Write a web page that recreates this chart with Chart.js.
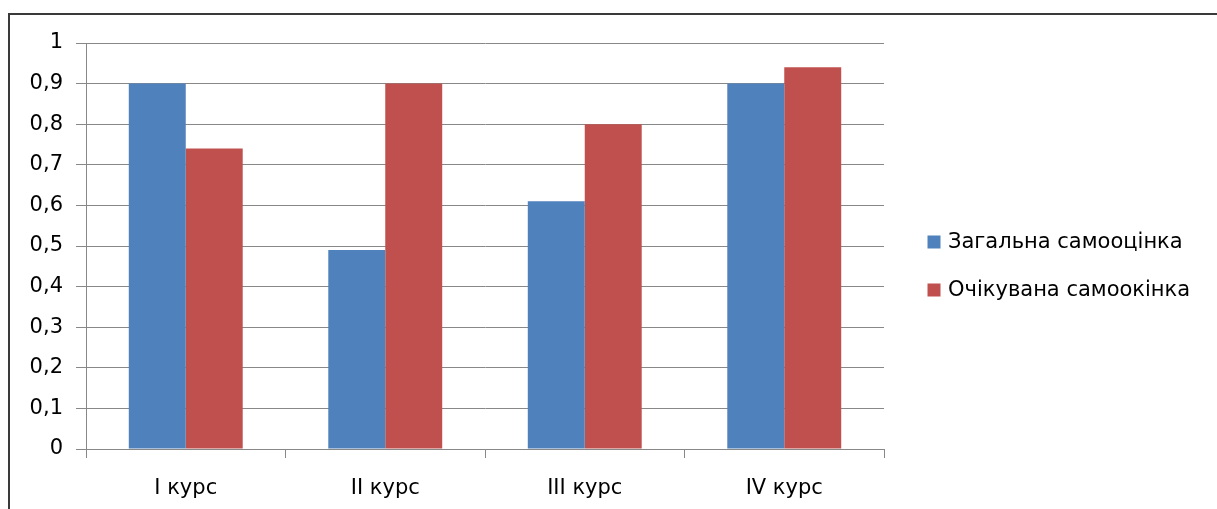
<!DOCTYPE html>
<html>
<head>
<meta charset="utf-8">
<script src="https://cdn.jsdelivr.net/npm/chart.js@4"></script>
<style>
    html, body { margin: 0; background: #fff; overflow: hidden; }
    #ramka {
        position: absolute; left: 8px; top: 13px; width: 1300px; height: 600px;
        border-left: 2px solid #3a3a3a; border-top: 2px solid #3a3a3a;
    }
    #caixa { position: absolute; left: 10px; top: 15px; width: 1207px; height: 494px; }
</style>
</head>
<body>
<div id="ramka"></div>
<div id="caixa"><canvas id="grafico"></canvas></div>
<script>
// dados
const cursos = ['I курс', 'II курс', 'III курс', 'IV курс'];
const nomesSeries = ['Загальна самооцінка', 'Очікувана самоокінка'];
const zagalna = [0.9, 0.49, 0.61, 0.9];
const ochikuvana = [0.74, 0.9, 0.8, 0.94];
const rotulosY = ['0', '0,1', '0,2', '0,3', '0,4', '0,5', '0,6', '0,7', '0,8', '0,9', '1'];

const FONTE = 'DejaVu Sans';
const corGrade = '#888888';

// legenda desenhada à direita, como no Excel
const legendaDireita = {
    id: 'legendaDireita',
    afterDraw(chart) {
        const ctx = chart.ctx;
        ctx.save();
        ctx.font = '21px "' + FONTE + '"';
        ctx.textBaseline = 'alphabetic';
        ctx.textAlign = 'left';
        chart.data.datasets.forEach((ds, i) => {
            const base = 233 + i * 48;
            ctx.fillStyle = ds.backgroundColor;
            ctx.fillRect(917.5, base - 12.5, 13, 13);
            ctx.fillStyle = '#000';
            ctx.fillText(ds.label, 938, base);
        });
        ctx.restore();
    }
};

new Chart(document.getElementById('grafico'), {
    type: 'bar',
    data: {
        labels: cursos,
        datasets: [
            { label: nomesSeries[0], data: zagalna, backgroundColor: '#4F81BD' },
            { label: nomesSeries[1], data: ochikuvana, backgroundColor: '#C0504D' }
        ]
    },
    options: {
        responsive: true,
        maintainAspectRatio: false,
        animation: false,
        devicePixelRatio: 1,
        categoryPercentage: 0.571,
        barPercentage: 1,
        layout: { padding: { top: 28, right: 333, left: 0, bottom: 0 } },
        plugins: {
            legend: { display: false },
            tooltip: { enabled: false }
        },
        scales: {
            x: {
                grid: { drawOnChartArea: false, drawTicks: true, tickLength: 9, color: corGrade, offset: true },
                border: { color: corGrade },
                ticks: { font: { family: FONTE, size: 21 }, color: '#000', padding: 18 },
                afterFit: (scale) => { scale.height = 60; }
            },
            y: {
                min: 0,
                max: 1,
                grid: { color: corGrade, tickLength: 10 },
                border: { color: corGrade },
                ticks: {
                    stepSize: 0.1,
                    font: { family: FONTE, size: 21 },
                    color: '#000',
                    padding: 13,
                    callback: (v, i) => rotulosY[i]
                },
                afterFit: (scale) => { scale.width = 76; }
            }
        }
    },
    plugins: [legendaDireita]
});
</script>
</body>
</html>
